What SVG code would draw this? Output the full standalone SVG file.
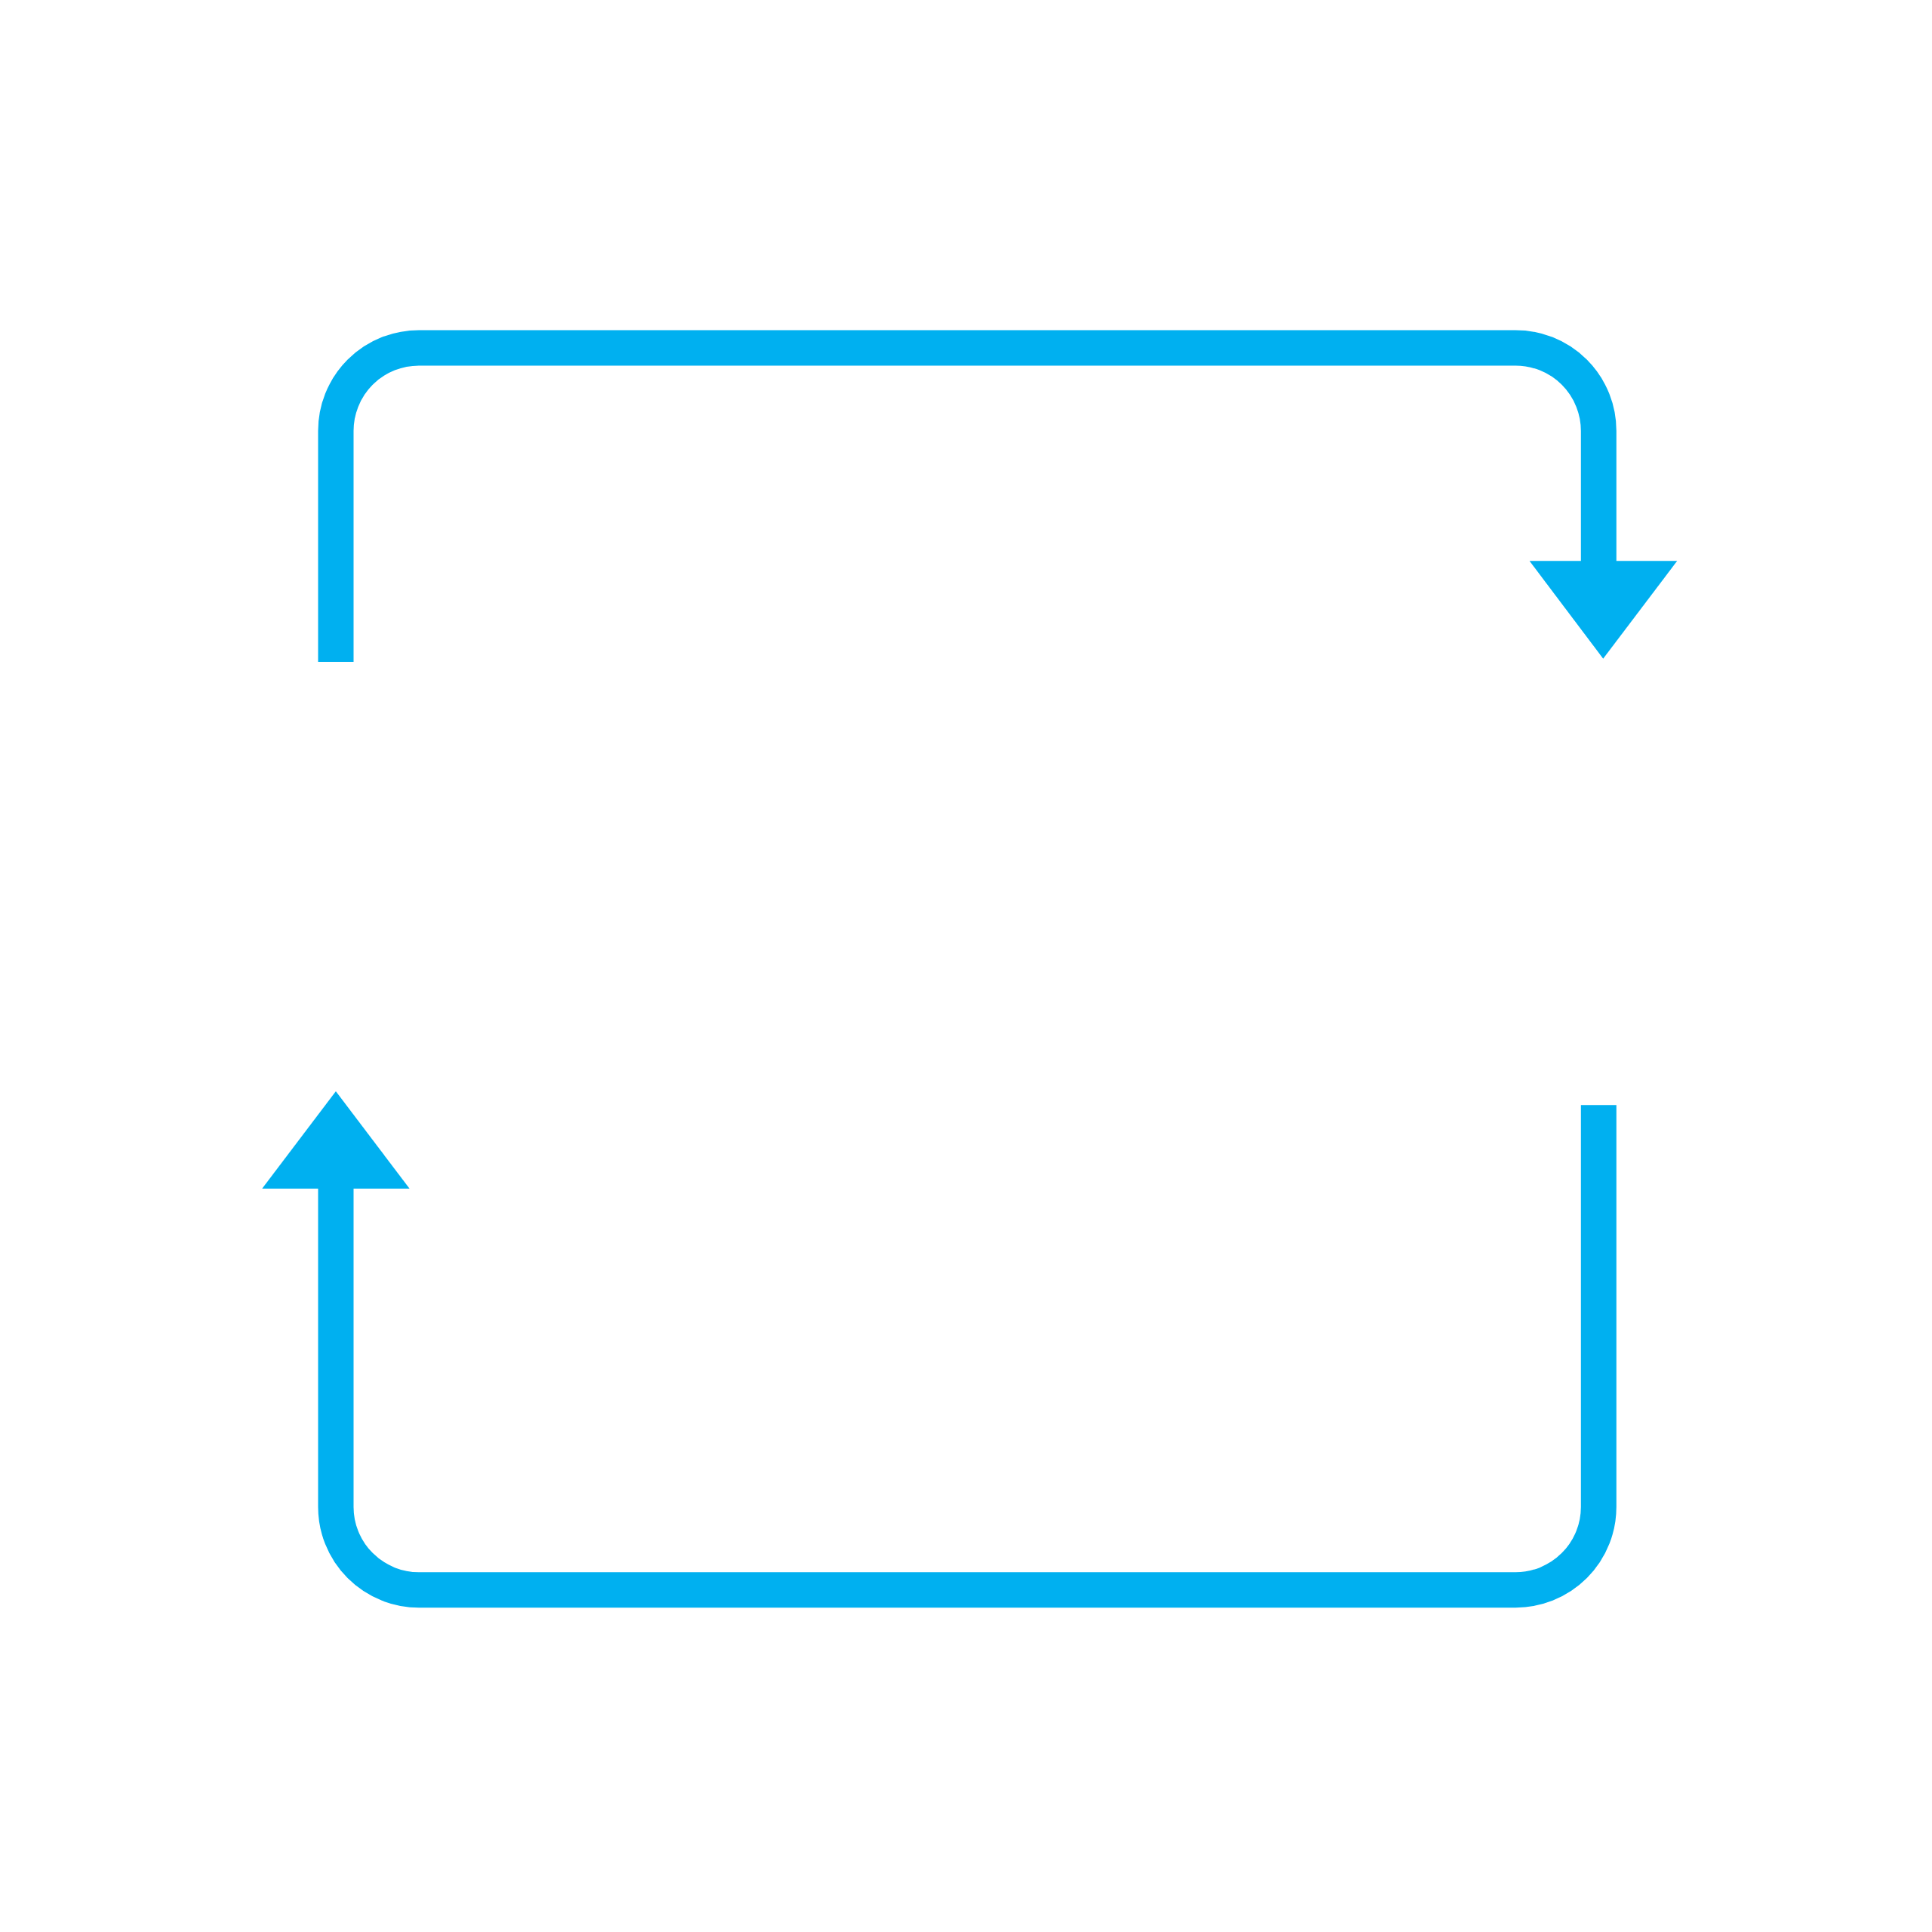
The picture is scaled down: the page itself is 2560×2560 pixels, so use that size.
<svg xmlns="http://www.w3.org/2000/svg" width="2560" height="2560" viewBox="0 0 2560 2560">
<style>
.conn{fill:none;stroke:#00B0F0;stroke-width:47;stroke-linecap:butt;stroke-linejoin:miter}
.head{fill:#00B0F0;stroke:none}
</style>
<rect width="2560" height="2560" fill="#FFFFFF"/>
<g id="connectors">
<g id="top-arrow">
<path class="conn" d="M445 877 L445 571 A110 110 0 0 1 555 461 L2008.3 461 A110 110 0 0 1 2118.3 571 L2118.3 750"/>
<polygon class="head" points="2026.7,743.3 2222.3,743.3 2124.3,872.7"/>
</g>
<g id="bottom-arrow">
<path class="conn" d="M2118.3 1464.3 L2118.3 1996.7 A110 110 0 0 1 2008.3 2106.7 L555 2106.7 A110 110 0 0 1 445 1996.7 L445 1568"/>
<polygon class="head" points="347.3,1575 542.7,1575 445,1446"/>
</g>
</g>
</svg>
